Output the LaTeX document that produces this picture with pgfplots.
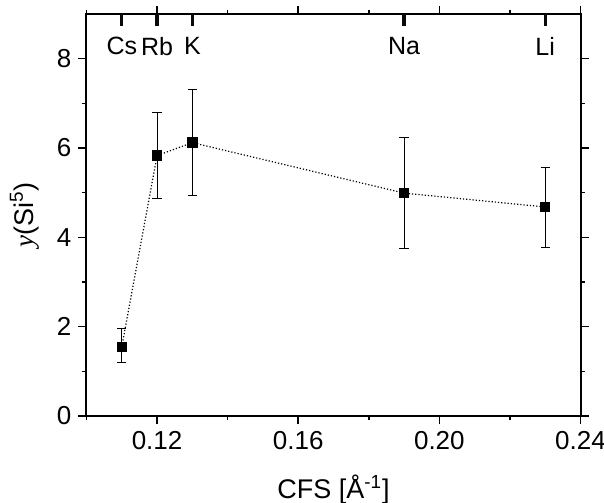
\documentclass[border=0pt]{standalone}
\usepackage{fontspec}
\setmainfont{Liberation Sans}
\newfontfamily\timesfont{Liberation Serif}
\usepackage{pgfplots}
\usepackage{pgfplotstable}
\pgfplotsset{compat=1.18}
\definecolor{tk}{RGB}{10,10,10}
\pgfplotstableread{
x y ep em
0.11 1.55 0.41 0.36
0.12 5.83 0.97 0.97
0.13 6.12 1.19 1.18
0.19 4.99 1.25 1.25
0.23 4.68 0.89 0.90
}\datatable
\begin{document}
\begin{tikzpicture}
\begin{axis}[name=main, scale only axis, width=247pt, height=201pt,
 xmin=0.10, xmax=0.24, ymin=0, ymax=9,
 xtick={0.12,0.16,0.20,0.24}, xticklabels={0.12,0.16,0.20,0.24},
 minor xtick={0.10,0.14,0.18,0.22},
 ytick={0,2,4,6,8}, minor ytick={1,3,5,7},
 tick align=outside, xtick pos=both, ytick pos=both, xticklabel pos=lower, yticklabel pos=left,
 major tick length=4pt, minor tick length=2pt,
 tick style={black, line width=0.8pt},
 axis line style={line width=1pt},
 ticklabel style={font=\fontsize{13}{15}\selectfont},
 /pgf/number format/assume math mode=true,
 xlabel={CFS [Å\textsuperscript{-1}]},
 ylabel={{\timesfont\itshape y}(Si\textsuperscript{5})},
 label style={font=\fontsize{13.5}{16}\selectfont},
 xlabel style={yshift=-2pt},
 ylabel style={yshift=2pt},
 extra x ticks={0.11,0.12,0.13,0.19,0.23},
 extra x tick labels={Cs,Rb,K,Na,Li},
 extra x tick style={xtick pos=right, xticklabel pos=right, tick align=inside,
   major tick length=6pt, tick style={tk, line width=1.6pt},
   xticklabel style={anchor=north, yshift=-8pt, font=\fontsize{12.5}{15}\selectfont}},
 clip=false]
\addplot[black, densely dotted, line width=0.6pt, mark=square*, mark size=2.3pt, mark options={solid},
  error bars/.cd, y dir=both, y explicit, error bar style={solid, line width=0.45pt},
  error mark options={rotate=90, mark size=2.3pt, line width=0.45pt}]
  table[x=x, y=y, y error plus=ep, y error minus=em]{\datatable};
\end{axis}
\pgfresetboundingbox
\path[use as bounding box] ([shift={(-43.25pt,-43.3pt)}]main.south west) rectangle ([shift={(11.75pt,7pt)}]main.north east);
\end{tikzpicture}
\end{document}
